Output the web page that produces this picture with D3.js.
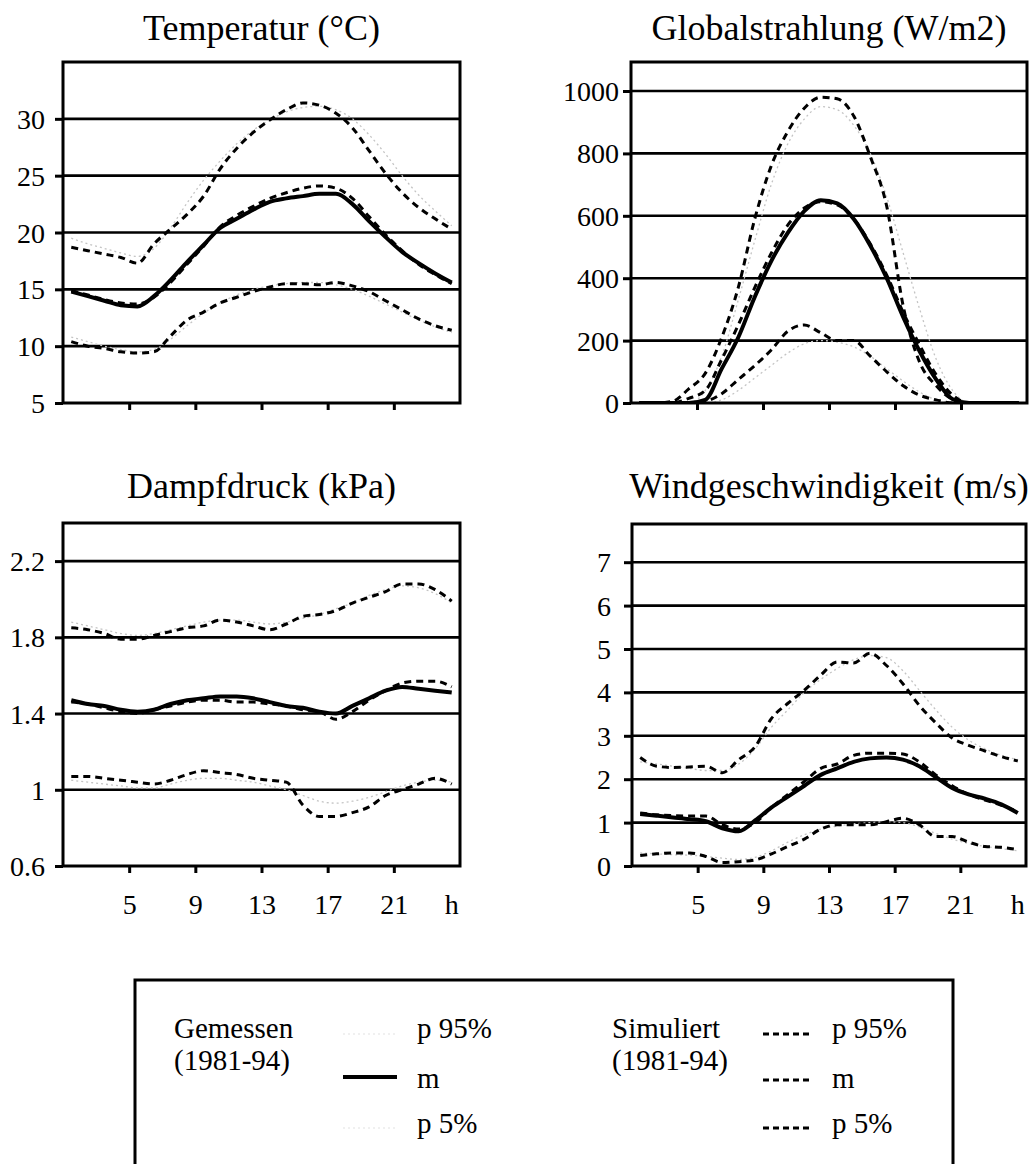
<!DOCTYPE html>
<html>
<head>
<meta charset="utf-8">
<script src="https://cdn.jsdelivr.net/npm/d3@7"></script>
<style>
  html, body { margin: 0; padding: 0; background: #fff; }
  svg { display: block; }
  text { font-family: "Liberation Serif", "Times New Roman", serif; fill: #000; }
</style>
</head>
<body>
<svg id="chart" width="1034" height="1164"></svg>
<script>
// ---------------- DATA ----------------
const hours = [1,2,3,4,5,6,7,8,9,10,11,12,13,14,15,16,17,18,19,20,21,22,23,24];
const xTickValues = [5, 9, 13, 17, 21];
const xEndLabel = "h";

const titles = ["Temperatur (°C)", "Globalstrahlung (W/m2)", "Dampfdruck (kPa)", "Windgeschwindigkeit (m/s)"];

// Temperatur (°C)
const tempTicks = [5, 10, 15, 20, 25, 30];
const tempTickLabels = ["5", "10", "15", "20", "25", "30"];
const tempMeasM   = [14.8,14.4,14.0,13.6,13.5,14.4,15.8,17.4,18.9,20.4,21.2,22.0,22.7,23.0,23.2,23.4,23.4,22.5,21.0,19.6,18.3,17.3,16.4,15.6];
const tempMeasP95 = [19.5,19.0,18.6,18.2,17.9,18.6,20.4,22.6,24.6,26.3,27.8,29.0,29.9,30.6,31.0,31.1,30.8,30.0,28.6,26.9,25.0,23.3,21.9,20.6];
const tempMeasP5  = [10.8,10.4,10.0,9.7,9.5,9.7,10.6,11.8,12.9,13.8,14.5,15.0,15.3,15.5,15.6,15.6,15.4,15.0,14.4,13.7,13.0,12.3,11.7,11.2];
const tempSimM    = [14.9,14.5,14.1,13.8,13.7,14.3,15.6,17.2,18.8,20.5,21.5,22.3,23.0,23.5,23.9,24.1,23.9,23.0,21.4,19.8,18.4,17.2,16.3,15.5];
const tempSimP95  = [18.7,18.4,18.1,17.8,17.3,19.0,20.3,21.6,23.2,25.6,27.4,28.8,29.9,30.8,31.4,31.2,30.5,29.2,27.2,25.2,23.5,22.2,21.2,20.3];
const tempSimP5   = [10.4,10.0,9.8,9.5,9.4,9.5,10.9,12.3,13.0,13.8,14.3,14.8,15.2,15.5,15.5,15.4,15.6,15.3,14.8,14.0,13.2,12.4,11.8,11.4];

// Globalstrahlung (W/m2)
const radTicks = [0, 200, 400, 600, 800, 1000];
const radTickLabels = ["0", "200", "400", "600", "800", "1000"];
const radMeasM   = [0,0,0,0,10,110,210,340,455,545,615,650,640,590,505,400,275,165,75,12,0,0,0,0];
const radMeasP95 = [0,0,0,0,40,150,330,520,700,830,910,950,940,890,800,660,480,300,140,40,0,0,0,0];
const radMeasP5  = [0,0,0,0,0,10,40,80,120,160,190,200,195,180,150,110,70,35,10,0,0,0,0,0];
const radSimM    = [0,0,0,15,40,140,250,370,480,570,625,645,635,590,510,410,290,185,90,25,0,0,0,0];
const radSimP95  = [0,0,5,45,95,210,370,590,760,870,945,980,975,920,790,630,310,130,55,12,0,0,0,0];
const radSimP5   = [0,0,0,0,5,30,75,120,170,230,250,225,200,200,150,100,55,25,10,0,0,0,0,0];

// Dampfdruck (kPa)
const vpTicks = [0.6, 1.0, 1.4, 1.8, 2.2];
const vpTickLabels = ["0.6", "1", "1.4", "1.8", "2.2"];
const vpMeasM   = [1.47,1.45,1.44,1.42,1.41,1.42,1.45,1.47,1.48,1.49,1.49,1.48,1.46,1.44,1.43,1.41,1.40,1.44,1.48,1.52,1.54,1.53,1.52,1.51];
const vpMeasP95 = [1.88,1.86,1.84,1.82,1.81,1.82,1.84,1.86,1.88,1.89,1.89,1.88,1.87,1.88,1.90,1.92,1.95,1.98,2.02,2.05,2.07,2.06,2.03,1.98];
const vpMeasP5  = [1.05,1.04,1.03,1.02,1.01,1.01,1.03,1.05,1.06,1.06,1.05,1.04,1.02,1.00,0.97,0.94,0.93,0.94,0.96,0.99,1.02,1.04,1.05,1.04];
const vpSimM    = [1.46,1.45,1.43,1.41,1.40,1.42,1.44,1.46,1.47,1.47,1.46,1.46,1.45,1.44,1.42,1.41,1.37,1.41,1.47,1.52,1.56,1.57,1.57,1.54];
const vpSimP95  = [1.85,1.84,1.82,1.79,1.79,1.81,1.83,1.85,1.86,1.89,1.88,1.86,1.84,1.87,1.91,1.92,1.94,1.98,2.01,2.04,2.08,2.08,2.05,1.99];
const vpSimP5   = [1.07,1.07,1.06,1.05,1.04,1.03,1.05,1.08,1.10,1.09,1.08,1.06,1.05,1.04,0.92,0.86,0.86,0.88,0.91,0.97,1.00,1.03,1.06,1.03];

// Windgeschwindigkeit (m/s)
const windTicks = [0, 1, 2, 3, 4, 5, 6, 7];
const windTickLabels = ["0", "1", "2", "3", "4", "5", "6", "7"];
const windMeasM   = [1.20,1.16,1.12,1.08,1.03,0.87,0.80,1.05,1.35,1.60,1.85,2.10,2.25,2.40,2.48,2.50,2.45,2.30,2.05,1.80,1.65,1.55,1.42,1.22];
const windMeasP95 = [2.40,2.35,2.30,2.25,2.20,2.20,2.35,2.70,3.20,3.60,4.00,4.30,4.55,4.75,4.85,4.80,4.50,4.05,3.60,3.20,2.90,2.70,2.55,2.45];
const windMeasP5  = [0.30,0.28,0.26,0.25,0.22,0.18,0.15,0.20,0.35,0.55,0.72,0.85,0.92,0.97,1.00,1.02,1.00,0.90,0.75,0.62,0.52,0.45,0.40,0.35];
const windSimM    = [1.22,1.18,1.16,1.15,1.15,0.95,0.85,1.00,1.35,1.65,1.95,2.25,2.35,2.55,2.60,2.60,2.58,2.40,2.10,1.85,1.65,1.52,1.40,1.25];
const windSimP95  = [2.50,2.30,2.27,2.28,2.30,2.15,2.45,2.75,3.40,3.75,4.05,4.40,4.70,4.68,4.90,4.62,4.20,3.70,3.30,2.95,2.78,2.65,2.52,2.42];
const windSimP5   = [0.24,0.28,0.30,0.30,0.22,0.08,0.10,0.14,0.28,0.45,0.62,0.85,0.95,0.95,0.95,1.02,1.10,0.95,0.68,0.68,0.55,0.45,0.43,0.38];

// Legend
const legendGroups = ["Gemessen", "Simuliert"];
const legendPeriod = "(1981-94)";
const legendItems = ["p 95%", "m", "p 5%"];

// ---------------- LAYOUT / STYLE ----------------
const svg = d3.select("#chart");
const FONT_TITLE = 36, FONT_TICK = 28, FONT_LEGEND = 29;

const panels = [
  { title: titles[0], box: {l: 63, r: 460, t: 62, b: 403}, domain: [5, 35], ticks: tempTicks, labels: tempTickLabels, labelX: 45, xLabels: false,
    series: {measM: tempMeasM, measP95: tempMeasP95, measP5: tempMeasP5, simM: tempSimM, simP95: tempSimP95, simP5: tempSimP5}, titleY: 40 },
  { title: titles[1], box: {l: 631, r: 1027, t: 62, b: 403}, domain: [0, 1093], ticks: radTicks, labels: radTickLabels, labelX: 619, xLabels: false,
    series: {measM: radMeasM, measP95: radMeasP95, measP5: radMeasP5, simM: radSimM, simP95: radSimP95, simP5: radSimP5}, titleY: 40 },
  { title: titles[2], box: {l: 63, r: 460, t: 523, b: 866}, domain: [0.6, 2.4], ticks: vpTicks, labels: vpTickLabels, labelX: 45, xLabels: true,
    series: {measM: vpMeasM, measP95: vpMeasP95, measP5: vpMeasP5, simM: vpSimM, simP95: vpSimP95, simP5: vpSimP5}, titleY: 498 },
  { title: titles[3], box: {l: 632, r: 1026, t: 524, b: 866}, domain: [0, 7.88], ticks: windTicks, labels: windTickLabels, labelX: 611, xLabels: true,
    series: {measM: windMeasM, measP95: windMeasP95, measP5: windMeasP5, simM: windSimM, simP95: windSimP95, simP5: windSimP5}, titleY: 498 }
];

const styles = {
  measP95: {stroke: "#c4c4c4", width: 1.3, dash: "2,3"},
  measP5:  {stroke: "#c4c4c4", width: 1.3, dash: "2,3"},
  simP95:  {stroke: "#000", width: 3, dash: "7,5"},
  simP5:   {stroke: "#000", width: 3, dash: "7,5"},
  simM:    {stroke: "#000", width: 3, dash: "7,5"},
  measM:   {stroke: "#000", width: 4, dash: null}
};
const drawOrder = ["measP95", "measP5", "simP95", "simP5", "simM", "measM"];

panels.forEach(p => {
  const g = svg.append("g");
  const B = p.box;
  const xBand = d3.scaleBand().domain(hours).range([B.l, B.r]).padding(0);
  const xLin = d3.scaleLinear().domain([hours[0], hours[hours.length - 1] + 1]).range([B.l, B.r]);
  const y = d3.scaleLinear().domain(p.domain).range([B.b, B.t]);

  // title
  g.append("text").attr("x", (B.l + B.r) / 2).attr("y", p.titleY)
    .attr("text-anchor", "middle").attr("font-size", FONT_TITLE).text(p.title);

  // gridlines
  g.append("g").selectAll("line").data(p.ticks.filter(t => t !== p.domain[0])).join("line")
    .attr("x1", B.l).attr("x2", B.r).attr("y1", d => y(d)).attr("y2", d => y(d))
    .attr("stroke", "#000").attr("stroke-width", 2.6);

  // y axis (ticks + labels)
  const yAxis = d3.axisLeft(y).tickValues(p.ticks).tickSize(8).tickPadding(0)
    .tickFormat((d, i) => p.labels[i]);
  const ya = g.append("g").attr("transform", `translate(${B.l},0)`).call(yAxis);
  ya.select(".domain").remove();
  ya.selectAll(".tick line").attr("stroke", "#000").attr("stroke-width", 3);
  ya.selectAll(".tick text").attr("x", p.labelX - B.l).attr("dy", "0.34em")
    .attr("font-size", FONT_TICK).attr("font-family", "Liberation Serif, serif").attr("fill", "#000");

  // x axis ticks
  const xAxis = d3.axisBottom(xLin).tickValues(xTickValues).tickSize(7).tickFormat(d => p.xLabels ? String(d) : "");
  const xa = g.append("g").attr("transform", `translate(0,${B.b})`).call(xAxis);
  xa.select(".domain").remove();
  xa.selectAll(".tick line").attr("stroke", "#000").attr("stroke-width", 3);
  xa.selectAll(".tick text").attr("y", 48).attr("dy", 0)
    .attr("font-size", FONT_TICK).attr("font-family", "Liberation Serif, serif").attr("fill", "#000");
  if (p.xLabels) {
    g.append("text").attr("x", xBand(hours[hours.length - 1]) + xBand.bandwidth() / 2).attr("y", B.b + 48)
      .attr("text-anchor", "middle").attr("font-size", FONT_TICK).text(xEndLabel);
  }

  // lines
  const clipId = "clip" + Math.round(B.l) + "_" + Math.round(B.t);
  g.append("clipPath").attr("id", clipId).append("rect")
    .attr("x", B.l).attr("y", B.t).attr("width", B.r - B.l).attr("height", B.b - B.t);
  const line = d3.line()
    .x((d, i) => xBand(hours[i]) + xBand.bandwidth() / 2)
    .y(d => y(d))
    .curve(d3.curveMonotoneX);
  const lg = g.append("g").attr("clip-path", `url(#${clipId})`);
  drawOrder.forEach(k => {
    const s = styles[k];
    lg.append("path").datum(p.series[k]).attr("d", line)
      .attr("fill", "none").attr("stroke", s.stroke).attr("stroke-width", s.width)
      .attr("stroke-dasharray", s.dash).attr("stroke-linejoin", "round").attr("stroke-linecap", "butt");
  });

  // frame
  g.append("rect").attr("x", B.l).attr("y", B.t).attr("width", B.r - B.l).attr("height", B.b - B.t)
    .attr("fill", "none").attr("stroke", "#000").attr("stroke-width", 3);
});

// ---------------- LEGEND ----------------
const lgd = svg.append("g");
lgd.append("rect").attr("x", 135).attr("y", 980).attr("width", 818).attr("height", 220)
  .attr("fill", "none").attr("stroke", "#000").attr("stroke-width", 3);

const groupX = [174, 612];
const sampleX = [[343, 397], [763, 813]];
const itemX = [417, 832];
const itemBase = [1038, 1088, 1133];
const sampleY = [1034, 1080, 1128];
const groupKeys = [["measP95", "measM", "measP5"], ["simP95", "simM", "simP5"]];

legendGroups.forEach((name, gi) => {
  lgd.append("text").attr("x", groupX[gi]).attr("y", 1038).attr("font-size", FONT_LEGEND).text(name);
  lgd.append("text").attr("x", groupX[gi]).attr("y", 1070).attr("font-size", FONT_LEGEND).text(legendPeriod);
  legendItems.forEach((item, ii) => {
    const key = groupKeys[gi][ii];
    const s = styles[key];
    const yy = (gi === 0 && key === "measM") ? 1077 : sampleY[ii];
    lgd.append("line").attr("x1", sampleX[gi][0]).attr("x2", sampleX[gi][1])
      .attr("y1", yy).attr("y2", yy)
      .attr("stroke", key.startsWith("meas") && key !== "measM" ? "#ececec" : s.stroke)
      .attr("stroke-width", s.width).attr("stroke-dasharray", gi === 1 ? "6,4" : s.dash);
    lgd.append("text").attr("x", itemX[gi]).attr("y", itemBase[ii]).attr("font-size", FONT_LEGEND).text(item);
  });
});
</script>
</body>
</html>
